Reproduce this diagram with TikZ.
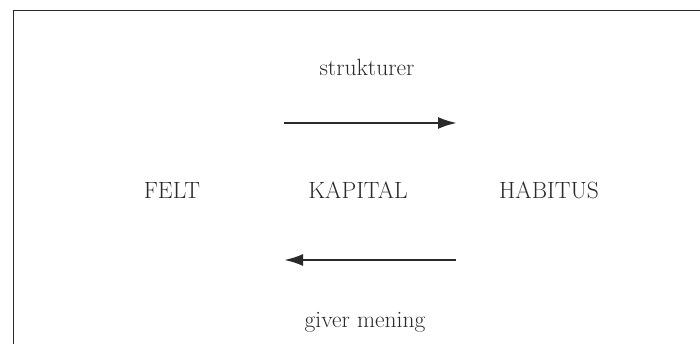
\documentclass[tikz,border=0pt]{standalone}
\usetikzlibrary{arrows.meta}
\definecolor{ink}{HTML}{2a2a2a}
\begin{document}
\begin{tikzpicture}[x=1pt,y=1pt,
  lbl/.style={text=ink,font=\fontsize{23.5}{28}\selectfont,inner sep=0pt},
  arr/.style={draw=ink,line width=2.4pt,-{Latex[length=19pt,width=12pt]}}]
\useasboundingbox (0,0) rectangle (700,344);
\draw[ink,line width=1.8pt] (13.5,0) -- (13.5,333.5) -- (700,333.5);
\node[lbl] (s) at (367,277) {strukturer};
\node[lbl] (g) at (365,22) {giver mening};
\node[lbl] (f) at (172,154) {FELT};
\node[lbl] (k) at (358,154) {KAPITAL};
\node[lbl] (h) at (549,154) {HABITUS};
\coordinate (a1) at (284,221);
\coordinate (a2) at (457,221);
\coordinate (b1) at (456,84);
\coordinate (b2) at (284,84);
\draw[arr] (a1) -- (a2);
\draw[arr] (b1) -- (b2);
\end{tikzpicture}
\end{document}
